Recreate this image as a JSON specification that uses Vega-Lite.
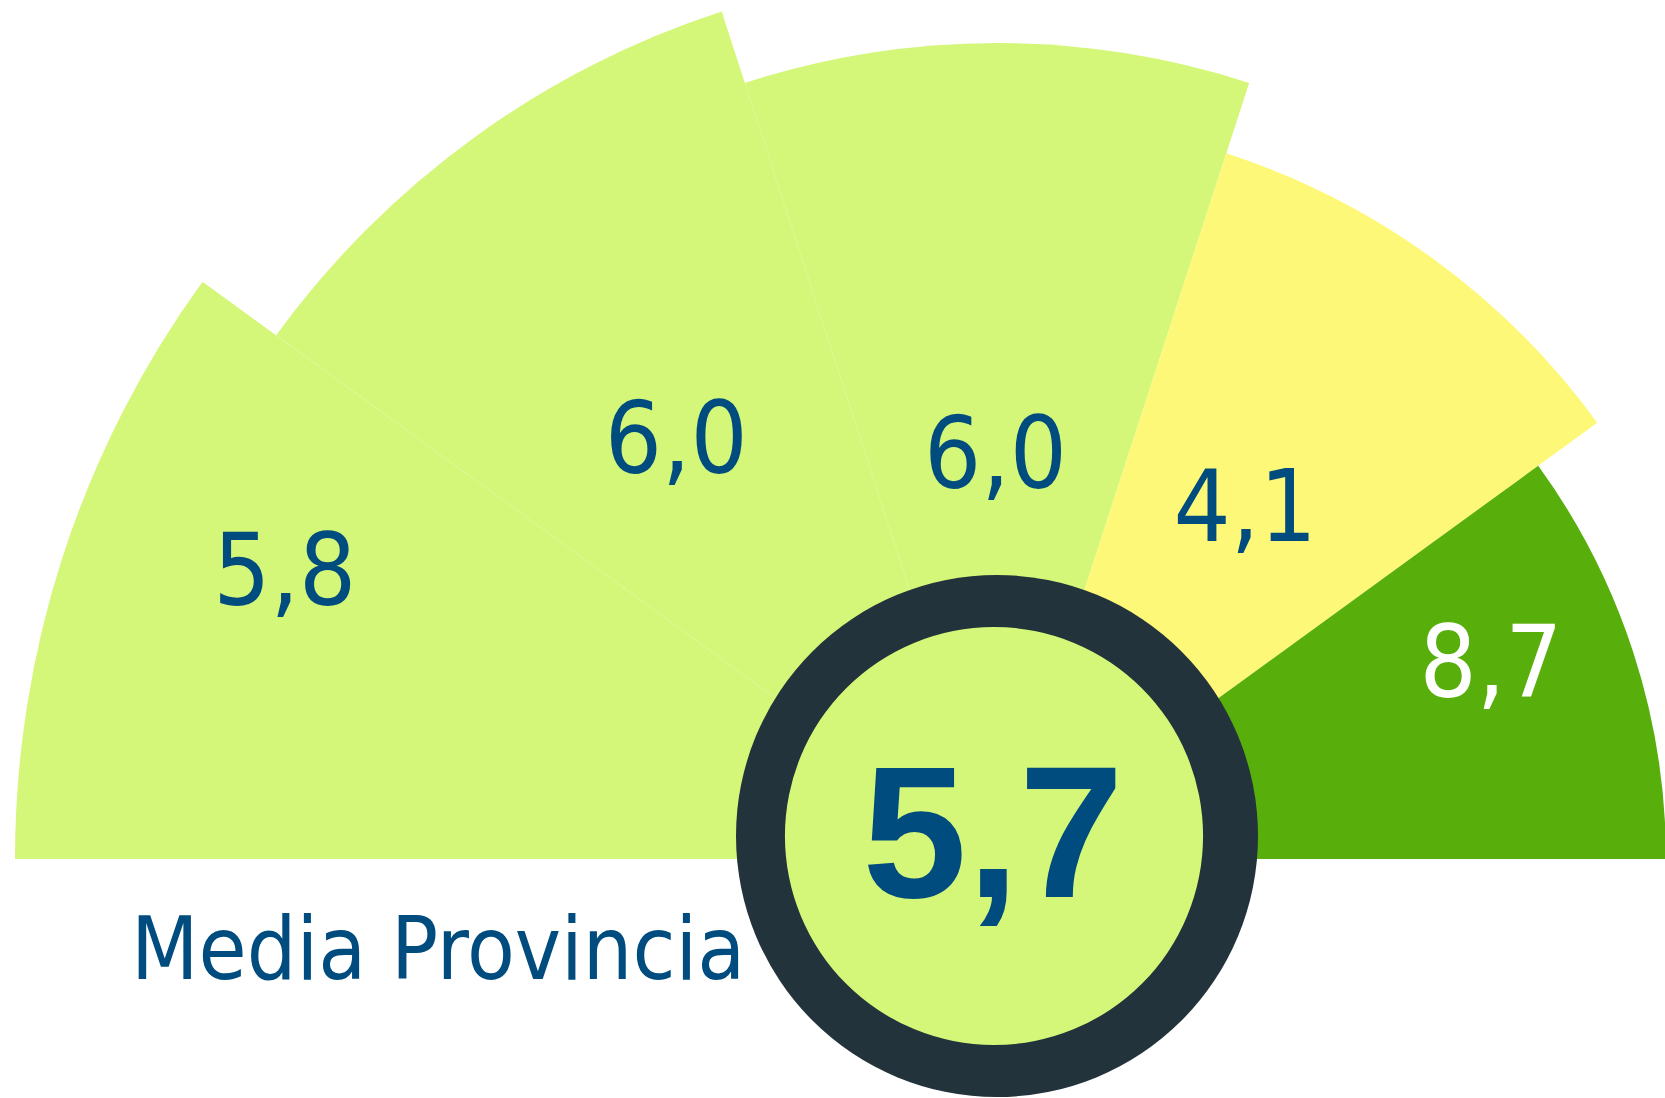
{
  "$schema": "https://vega.github.io/schema/vega-lite/v6.json",
  "width": 1665,
  "height": 1098,
  "autosize": "none",
  "padding": 0,
  "background": "#ffffff",
  "config": {
    "view": {"stroke": null},
    "locale": {"number": {"decimal": ",", "thousands": ".", "grouping": [3], "currency": ["", " €"]}}
  },
  "datasets": {
    "zonas": [
      {"orden": 1, "valor": 5.8},
      {"orden": 2, "valor": 6.0},
      {"orden": 3, "valor": 6.0},
      {"orden": 4, "valor": 4.1},
      {"orden": 5, "valor": 8.7}
    ],
    "media": [
      {"valor": 5.7, "etiqueta": "Media Provincia"}
    ]
  },
  "layer": [
    {
      "data": {"name": "zonas"},
      "mark": {"type": "arc", "x": 997, "y": 859},
      "encoding": {
        "theta": {"field": "orden", "type": "ordinal", "scale": {"type": "band", "range": [-1.5708, 1.5708], "paddingInner": 0, "paddingOuter": 0}},
        "radius": {"field": "orden", "type": "quantitative", "stack": null, "scale": {"type": "linear", "zero": false, "domain": [1, 2, 3, 4, 5], "range": [982, 891, 816, 742, 669]}},
        "radius2": {"value": 0},
        "color": {"field": "valor", "type": "quantitative", "scale": {"type": "threshold", "domain": [5, 7], "range": ["#fef879", "#d4f779", "#58ae0a"]}, "legend": null}
      }
    },
    {
      "data": {"name": "zonas"},
      "mark": {"type": "text", "x": 997, "y": 859, "font": "DejaVu Sans Condensed, DejaVu Sans, sans-serif", "fontSize": 100, "align": "center", "baseline": "alphabetic"},
      "encoding": {
        "theta": {"field": "orden", "type": "quantitative", "stack": null, "scale": {"zero": false, "domain": [1, 2, 3, 4, 5], "range": [-1.2287, -0.6929, -0.004, 0.6632, 1.2531]}},
        "radius": {"field": "orden", "type": "quantitative", "stack": null, "scale": {"type": "linear", "zero": false, "domain": [1, 2, 3, 4, 5], "range": [756, 502, 371, 403, 520]}},
        "text": {"field": "valor", "type": "quantitative", "format": ".1f"},
        "color": {"condition": {"test": "datum.valor >= 7", "value": "#ffffff"}, "value": "#004c7f"}
      }
    },
    {
      "data": {"name": "media"},
      "mark": {"type": "arc", "x": 997, "y": 836, "theta": 0, "theta2": 6.2832, "radius": 261, "fill": "#22333b"},
      "encoding": {}
    },
    {
      "data": {"name": "media"},
      "mark": {"type": "arc", "x": 994, "y": 836, "theta": 0, "theta2": 6.2832, "radius": 209},
      "encoding": {
        "color": {"field": "valor", "type": "quantitative", "scale": {"type": "threshold", "domain": [5, 7], "range": ["#fef879", "#d4f779", "#58ae0a"]}, "legend": null}
      }
    },
    {
      "data": {"name": "media"},
      "mark": {"type": "text", "x": 993, "y": 897, "font": "Liberation Sans, sans-serif", "fontWeight": "bold", "fontSize": 188, "align": "center", "baseline": "alphabetic", "fill": "#004c7f"},
      "encoding": {
        "text": {"field": "valor", "type": "quantitative", "format": ".1f"}
      }
    },
    {
      "data": {"name": "media"},
      "mark": {"type": "text", "x": 131, "y": 979, "font": "DejaVu Sans Condensed, DejaVu Sans, sans-serif", "fontSize": 87, "align": "left", "baseline": "alphabetic", "fill": "#004c7f"},
      "encoding": {
        "text": {"field": "etiqueta", "type": "nominal"}
      }
    }
  ],
  "resolve": {"scale": {"theta": "independent", "radius": "independent"}}
}
